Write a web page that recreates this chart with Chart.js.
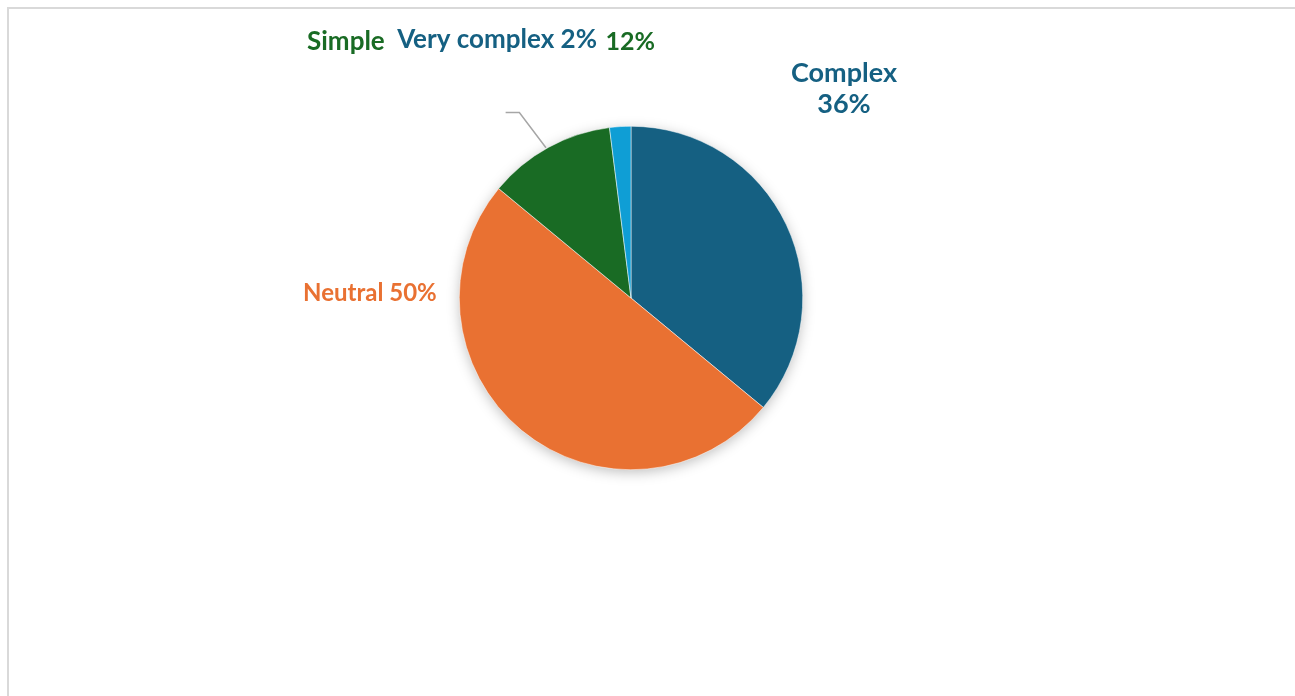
<!DOCTYPE html>
<html>
<head>
<meta charset="utf-8">
<script src="https://cdn.jsdelivr.net/npm/chart.js@4"></script>
<style>
  html, body { margin: 0; padding: 0; background: #fff; overflow: hidden; }
  #frame { position: absolute; left: 7px; top: 7px; width: 1310px; height: 720px; border: 2px solid #d9d9d9; }
  #wrap { position: absolute; left: 0; top: 0; width: 1295px; height: 696px; }
</style>
</head>
<body>
<div id="frame"></div>
<div id="wrap"><canvas id="pieChart" width="1295" height="696"></canvas></div>
<script>
// --- données du graphique ---
const categories = ['Complex', 'Neutral', 'Simple', 'Very complex'];
const shares = [36, 50, 12, 2];
const sliceColors = ['#156082', '#e97132', '#196b24', '#0f9ed5'];
const labelColors = ['#156082', '#e97132', '#196b24', '#156082'];

// position des étiquettes, en rayons depuis le centre du camembert
const labelSpots = [
  { dx: 1.24, dy: -1.31, size: 27, lines: ['Complex', '36%'] },
  { dx: -1.52, dy: -0.03, size: 24, lines: ['Neutral 50%'] },
  null, // Simple : étiquette coupée, dessinée à part
  { dx: -0.78, dy: -1.505, size: 26, lines: ['Very complex 2%'] }
];

const fontOf = size => `bold ${size}px Lato, "Liberation Sans", sans-serif`;

const shadowPlugin = {
  id: 'pieShadow',
  beforeDatasetsDraw(chart) {
    const arc = chart.getDatasetMeta(0).data[0];
    const ctx = chart.ctx;
    ctx.save();
    ctx.shadowColor = 'rgba(0,0,0,0.28)';
    ctx.shadowBlur = 14;
    ctx.shadowOffsetY = 3;
    ctx.fillStyle = '#fff';
    ctx.beginPath();
    ctx.arc(arc.x, arc.y, arc.outerRadius - 1, 0, Math.PI * 2);
    ctx.fill();
    ctx.restore();
  }
};

const labelPlugin = {
  id: 'sliceLabels',
  afterDatasetsDraw(chart) {
    const meta = chart.getDatasetMeta(0);
    const arc = meta.data[0];
    const cx = arc.x, cy = arc.y, r = arc.outerRadius;
    const ctx = chart.ctx;
    ctx.save();
    ctx.textAlign = 'center';
    ctx.textBaseline = 'middle';
    labelSpots.forEach((spot, i) => {
      if (!spot) return;
      ctx.font = fontOf(spot.size);
      ctx.fillStyle = labelColors[i];
      spot.lines.forEach((line, k) => {
        ctx.fillText(line, cx + spot.dx * r, cy + spot.dy * r + k * 31);
      });
    });
    // étiquette "Simple 12%" coupée de part et d'autre de "Very complex 2%"
    ctx.fillStyle = labelColors[2];
    ctx.font = fontOf(26);
    ctx.fillText(categories[2], cx - 1.66 * r, cy - 1.49 * r);
    ctx.font = fontOf(25);
    ctx.fillText(shares[2] + '%', cx - 0.005 * r, cy - 1.49 * r);
    // ligne de rappel
    ctx.strokeStyle = '#a6a6a6';
    ctx.lineWidth = 1.5;
    ctx.beginPath();
    ctx.moveTo(cx - 0.73 * r, cy - 1.08 * r);
    ctx.lineTo(cx - 0.65 * r, cy - 1.08 * r);
    ctx.lineTo(cx - 0.495 * r, cy - 0.875 * r);
    ctx.stroke();
    ctx.restore();
  }
};

const ctx = document.getElementById('pieChart').getContext('2d');
new Chart(ctx, {
  type: 'pie',
  data: {
    labels: categories,
    datasets: [{
      data: shares,
      backgroundColor: sliceColors,
      borderColor: '#ffffff',
      borderWidth: 0.5
    }]
  },
  options: {
    responsive: false,
    animation: false,
    layout: { padding: { top: 126, bottom: 226, left: 459, right: 492 } },
    plugins: {
      legend: { display: false },
      tooltip: { enabled: false }
    }
  },
  plugins: [shadowPlugin, labelPlugin]
});
</script>
</body>
</html>
